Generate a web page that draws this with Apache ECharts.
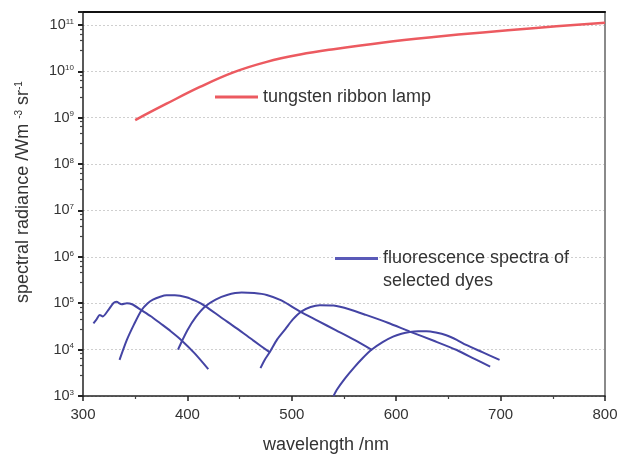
<!DOCTYPE html>
<html>
<head>
<meta charset="utf-8">
<script src="https://cdn.jsdelivr.net/npm/echarts@6/dist/echarts.min.js"></script>
<style>
html,body{margin:0;padding:0;background:#fff;}
#c{width:621px;height:455px;}
</style>
</head>
<body>
<div id="c"></div>
<script>
// ---- data ----
const lampName = 'tungsten ribbon lamp';
const dyeName = 'fluorescence spectra of selected dyes';
const lampWavelength = [350, 380, 412, 444, 476, 508, 540, 588, 636, 683, 731, 800];
const lampRadiance = [8.9e8, 2.0e9, 4.6e9, 9.5e9, 1.6e10, 2.3e10, 3.0e10, 4.2e10, 5.5e10, 6.9e10, 8.5e10, 1.12e11];

const dye1Wavelength = [310, 313, 316, 319, 324, 329, 332, 337, 342, 347, 356, 365, 374, 384, 394, 407, 420];
const dye1Radiance = [3.7e4, 4.5e4, 5.6e4, 5.2e4, 7.0e4, 1.0e5, 1.07e5, 9.5e4, 1.0e5, 9.5e4, 7.08e4, 5.25e4, 3.7e4, 2.5e4, 1.62e4, 8.3e3, 3.8e3];
const dye2Wavelength = [335, 342, 349, 356, 362, 367, 374, 380, 388, 399, 408, 417, 432, 448, 463, 479];
const dye2Radiance = [6.0e3, 1.62e4, 3.55e4, 7.08e4, 1.0e5, 1.2e5, 1.38e5, 1.48e5, 1.48e5, 1.35e5, 1.12e5, 8.7e4, 5.0e4, 2.8e4, 1.58e4, 8.7e3];
const dye3Wavelength = [391, 394.5, 400, 408, 417, 427, 438, 452, 464, 476, 490, 508, 525, 542, 560, 577];
const dye3Radiance = [1.0e4, 1.48e4, 2.63e4, 5.0e4, 8.5e4, 1.2e5, 1.51e5, 1.7e5, 1.66e5, 1.51e5, 1.15e5, 6.6e4, 4.17e4, 2.63e4, 1.62e4, 9.8e3];
const dye4Wavelength = [470, 474, 479, 486, 494, 501, 509, 518, 527, 540, 555, 571, 592, 613, 636, 658, 675, 690];
const dye4Radiance = [4.0e3, 6.0e3, 8.9e3, 1.66e4, 2.8e4, 4.47e4, 6.6e4, 8.3e4, 9.1e4, 8.9e4, 7.4e4, 5.6e4, 3.8e4, 2.45e4, 1.55e4, 9.8e3, 6.3e3, 4.3e3];
const dye5Wavelength = [540, 543, 551, 560, 568, 576, 587, 597, 605, 613, 621, 629, 638, 648, 658, 667, 683, 699];
const dye5Radiance = [1.0e3, 1.35e3, 2.4e3, 4.2e3, 6.6e3, 9.8e3, 1.45e4, 1.9e4, 2.19e4, 2.4e4, 2.5e4, 2.5e4, 2.34e4, 2.04e4, 1.62e4, 1.26e4, 8.7e3, 6.0e3];

const zip = (xs, ys) => xs.map((x, i) => [x, ys[i]]);
const dyes = [
  zip(dye1Wavelength, dye1Radiance),
  zip(dye2Wavelength, dye2Radiance),
  zip(dye3Wavelength, dye3Radiance),
  zip(dye4Wavelength, dye4Radiance),
  zip(dye5Wavelength, dye5Radiance)
];

const FONT = 'Liberation Sans, Arial, sans-serif';
const RED = '#ec5a60';
const BLUE = '#4444a4';

const chart = echarts.init(document.getElementById('c'));
const option = {
  backgroundColor: '#fff',
  animation: false,
  textStyle: { fontFamily: FONT },
  grid: { left: 83, right: 16, top: 12, bottom: 59, containLabel: false, outerBoundsMode: 'none' },
  legend: [
    {
      data: [lampName], selectedMode: false, left: 215, top: 87, padding: 0,
      icon: 'rect', itemWidth: 43, itemHeight: 3,
      textStyle: { fontFamily: FONT, fontSize: 18, color: '#333', lineHeight: 20 }
    },
    {
      data: [dyeName], selectedMode: false, left: 335, top: 224, padding: 0,
      icon: 'rect', itemWidth: 43, itemHeight: 3,
      formatter: () => ' \nfluorescence spectra of\nselected dyes',
      textStyle: { fontFamily: FONT, fontSize: 18, color: '#333', lineHeight: 23 }
    }
  ],
  xAxis: [
    {
      type: 'value', min: 300, max: 800, interval: 100,
      name: 'wavelength /nm', nameLocation: 'middle', nameGap: 40,
      nameTextStyle: { fontFamily: FONT, fontSize: 18, color: '#333', padding: [0, 36, 0, 0] },
      axisLine: { show: true, lineStyle: { color: '#222', width: 1.5 } },
      axisTick: { show: true, length: 5, lineStyle: { color: '#222', width: 1.5 } },
      minorTick: { show: true, splitNumber: 2, length: 3, lineStyle: { color: '#444', width: 1.2 } },
      axisLabel: { fontFamily: FONT, fontSize: 15, color: '#333', margin: 11 },
      splitLine: { show: false }
    },
    {
      type: 'value', min: 300, max: 800, position: 'top',
      axisLine: { show: true, onZero: false, lineStyle: { color: '#111', width: 2 } },
      axisTick: { show: false }, axisLabel: { show: false }, splitLine: { show: false }
    }
  ],
  yAxis: [
    {
      type: 'log', logBase: 10, min: 1e3, max: 1.9e11, splitNumber: 8,
      name: '{b|spectral radiance /Wm }{s|-3}{b| sr}{s|-1}', nameLocation: 'middle', nameGap: 51,
      nameTextStyle: {
        fontFamily: FONT, color: '#333', padding: [0, 0, 0, 24],
        rich: {
          b: { fontFamily: FONT, fontSize: 18, color: '#333' },
          s: { fontFamily: FONT, fontSize: 10, color: '#333', verticalAlign: 'top' }
        }
      },
      axisLine: { show: true, lineStyle: { color: '#222', width: 1.5 } },
      axisTick: { show: true, length: 5, lineStyle: { color: '#222', width: 2 } },
      minorTick: { show: true, splitNumber: 5, length: 3, lineStyle: { color: '#444', width: 1.2 } },
      axisLabel: {
        showMaxLabel: false, margin: 9,
        formatter: v => '{b|10}{s|' + Math.round(Math.log10(v)) + '}',
        rich: {
          b: { fontFamily: FONT, fontSize: 14.5, color: '#333' },
          s: { fontFamily: FONT, fontSize: 8, color: '#333', verticalAlign: 'top' }
        }
      },
      splitLine: { show: true, lineStyle: { color: '#cfcfcf', type: [2, 2], width: 1 } }
    },
    {
      type: 'log', logBase: 10, min: 1e3, max: 1.9e11, position: 'right',
      axisLine: { show: true, onZero: false, lineStyle: { color: '#8a8a8a', width: 2 } },
      axisTick: { show: false }, axisLabel: { show: false }, splitLine: { show: false }
    }
  ],
  series: [
    {
      name: lampName, type: 'line', xAxisIndex: 0, yAxisIndex: 0,
      data: zip(lampWavelength, lampRadiance), smooth: 0.4, showSymbol: false, symbol: 'none',
      lineStyle: { color: RED, width: 2.5 }, itemStyle: { color: RED }
    }
  ].concat(dyes.map(d => ({
    name: dyeName, type: 'line', xAxisIndex: 0, yAxisIndex: 0,
    data: d, smooth: 0.25, showSymbol: false, symbol: 'none',
    lineStyle: { color: BLUE, width: 2 }, itemStyle: { color: '#5a5ab8' }
  })))
};
chart.setOption(option);
</script>
</body>
</html>
